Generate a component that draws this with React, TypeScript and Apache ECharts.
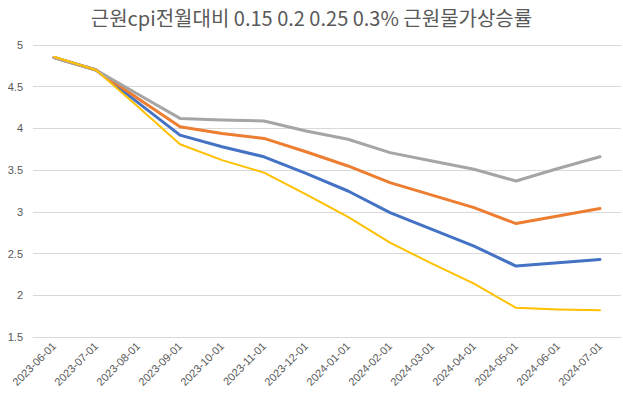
import React, { useEffect, useRef } from "react";
import * as echarts from "echarts";

const categories = [
  "2023-06-01", "2023-07-01", "2023-08-01", "2023-09-01", "2023-10-01", "2023-11-01", "2023-12-01",
  "2024-01-01", "2024-02-01", "2024-03-01", "2024-04-01", "2024-05-01", "2024-06-01", "2024-07-01",
];
const blueValues = [4.85, 4.70, 4.31, 3.92, 3.78, 3.66, 3.46, 3.25, 2.99, 2.79, 2.59, 2.35, 2.39, 2.43];
const orangeValues = [4.85, 4.70, 4.36, 4.02, 3.94, 3.88, 3.72, 3.55, 3.35, 3.20, 3.05, 2.86, 2.95, 3.04];
const grayValues = [4.85, 4.70, 4.41, 4.12, 4.10, 4.09, 3.97, 3.87, 3.71, 3.61, 3.51, 3.37, 3.52, 3.66];
const yellowValues = [4.86, 4.70, 4.26, 3.81, 3.62, 3.47, 3.21, 2.94, 2.63, 2.38, 2.14, 1.85, 1.83, 1.82];
const seriesNames = ["0.2", "0.25", "0.3", "0.15"];
const titleText = "근원cpi전월대비 0.15 0.2 0.25 0.3% 근원물가상승률";

export default function App() {
  const ref = useRef<HTMLDivElement>(null);
  useEffect(() => {
    if (!ref.current) return;
    const chart = echarts.init(ref.current, null, { renderer: "svg" });
    const mk = (name: string, data: number[], color: string, width: number) => ({
      name,
      type: "line",
      data,
      showSymbol: false,
      symbol: "none",
      lineStyle: { color, width, cap: "round", join: "round" },
      itemStyle: { color },
    });
    chart.setOption({
      animation: false,
      backgroundColor: "#ffffff",
      textStyle: { fontFamily: "'Noto Sans CJK KR', 'Noto Sans', sans-serif" },
      title: {
        text: titleText,
        left: "center",
        top: 2,
        textStyle: {
          fontSize: 20,
          fontWeight: "normal",
          color: "#595959",
          fontFamily: "'Noto Sans CJK KR', 'Noto Sans', sans-serif",
        },
      },
      grid: { left: 33, right: 2, top: 45, bottom: 60, containLabel: false },
      xAxis: {
        type: "category",
        data: categories,
        boundaryGap: true,
        axisLine: { show: true, lineStyle: { color: "#D9D9D9", width: 1 } },
        axisTick: { show: false },
        axisLabel: {
          rotate: 45,
          fontSize: 11,
          color: "#595959",
          margin: 7,
          interval: 0,
          fontFamily: "'Liberation Sans', 'Noto Sans', sans-serif",
        },
      },
      yAxis: {
        type: "value",
        min: 1.5,
        max: 5,
        interval: 0.5,
        axisLine: { show: false },
        axisTick: { show: false },
        splitLine: { show: true, lineStyle: { color: "#D9D9D9", width: 1 } },
        axisLabel: {
          fontSize: 11,
          color: "#595959",
          margin: 10,
          fontFamily: "'Liberation Sans', 'Noto Sans', sans-serif",
        },
      },
      series: [
        mk(seriesNames[0], blueValues, "#4472C4", 3),
        mk(seriesNames[1], orangeValues, "#ED7D31", 3),
        mk(seriesNames[2], grayValues, "#A5A5A5", 3),
        mk(seriesNames[3], yellowValues, "#FFC000", 2),
      ],
    });
    return () => chart.dispose();
  }, []);
  return <div ref={ref} style={{ width: 623, height: 397, position: "absolute", left: 0, top: 0 }} />;
}
